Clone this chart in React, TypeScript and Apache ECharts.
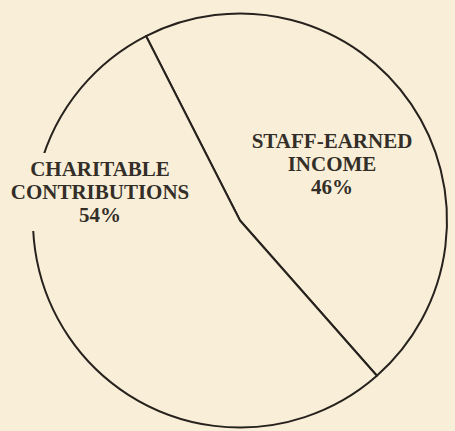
import React, { useEffect, useRef } from "react";
import * as echarts from "echarts";

const categories = ["STAFF-EARNED\nINCOME", "CHARITABLE\nCONTRIBUTIONS"];
const values = [46, 54];

const BG = "#f9efd8";
const INK = "#27221e";

export default function App() {
  const ref = useRef<HTMLDivElement>(null);
  useEffect(() => {
    document.body.style.margin = "0";
    document.body.style.background = BG;
    const chart = echarts.init(ref.current!, null, { renderer: "svg" });
    const labelPos = [
      { x: 332, y: 164 },
      { x: 100, y: 192 },
    ];
    chart.setOption({
      animation: false,
      backgroundColor: BG,
      series: [
        {
          type: "pie",
          center: [240, 220.5],
          radius: [0, 207],
          startAngle: 117,
          clockwise: true,
          silent: true,
          data: categories.map((name, i) =>
            i === 1
              ? {
                  name,
                  value: values[i],
                  label: { backgroundColor: BG, padding: [9, 0, 0, 0] },
                }
              : { name, value: values[i] }
          ),
          itemStyle: { color: BG, borderColor: INK, borderWidth: 2 },
          label: {
            show: true,
            position: "inside",
            formatter: (p: any) => `${p.name}\n${p.value}%`,
            fontFamily: "Liberation Serif",
            fontWeight: "bold",
            fontSize: 21,
            lineHeight: 23,
            color: "#342e29",
            align: "center",
          },
          labelLine: { show: false },
          labelLayout: (p: any) => ({
            x: labelPos[p.dataIndex].x,
            y: labelPos[p.dataIndex].y,
            align: "center",
            verticalAlign: "middle",
          }),
          emphasis: { disabled: true },
        },
      ],
    });
    return () => chart.dispose();
  }, []);
  return (
    <div
      ref={ref}
      style={{ position: "fixed", left: 0, top: 0, width: 455, height: 431, background: BG }}
    />
  );
}
